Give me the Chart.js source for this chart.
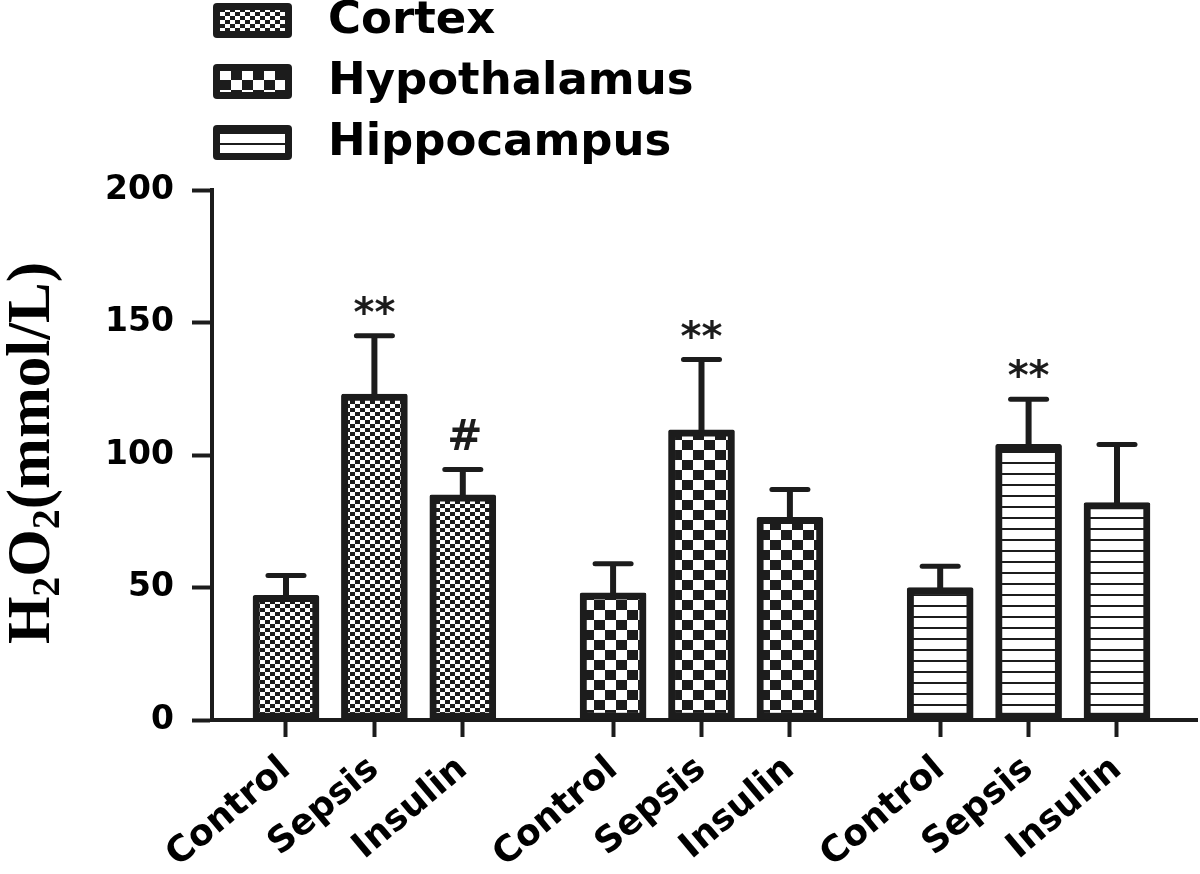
<!DOCTYPE html>
<html>
<head>
<meta charset="utf-8">
<title>H2O2 levels</title>
<script src="https://cdn.jsdelivr.net/npm/chart.js@4.4.1/dist/chart.umd.min.js"></script>
<style>
  html, body { margin: 0; padding: 0; background: #fff; }
  #wrap { width: 1200px; height: 874px; }
</style>
</head>
<body>
<div id="wrap"><canvas id="h2o2Chart" width="1200" height="874"></canvas></div>
<script>
// values (mean and upper error, mmol/L)
const regions = ['Cortex', 'Hypothalamus', 'Hippocampus'];
const groups = ['Control', 'Sepsis', 'Insulin'];

const cortexMean = [47, 123, 85];
const cortexErr = [7.5, 22, 9.5];
const hypothalamusMean = [48, 109.5, 76.5];
const hypothalamusErr = [11, 26.5, 10.5];
const hippocampusMean = [50, 104, 82];
const hippocampusErr = [8, 17, 22];

// significance marks above each bar
const cortexMarks = ['', '**', '#'];
const hypothalamusMarks = ['', '**', ''];
const hippocampusMarks = ['', '**', ''];

const yTicks = [0, 50, 100, 150, 200];

const INK = '#1c1c1c';
const SANS = "'DejaVu Sans', sans-serif";
const GROUP_STEP = 3.7; // 3 bars + gap, in bar-slot units

function checkerPattern(w, h) {
    const c = document.createElement('canvas');
    c.width = w * 2;
    c.height = h * 2;
    const g = c.getContext('2d');
    g.fillStyle = '#fff';
    g.fillRect(0, 0, w * 2, h * 2);
    g.fillStyle = INK;
    g.fillRect(0, 0, w, h);
    g.fillRect(w, h, w, h);
    return g.createPattern(c, 'repeat');
}

function stripePattern(step, line) {
    const c = document.createElement('canvas');
    c.width = 8;
    c.height = step;
    const g = c.getContext('2d');
    g.fillStyle = '#fff';
    g.fillRect(0, 0, 8, step);
    g.fillStyle = INK;
    g.fillRect(0, 0, 8, line);
    return g.createPattern(c, 'repeat');
}

const fills = [checkerPattern(5, 4), checkerPattern(11, 10), stripePattern(11, 2)];
const means = [cortexMean, hypothalamusMean, hippocampusMean];
const errs = [cortexErr, hypothalamusErr, hippocampusErr];
const marks = [cortexMarks, hypothalamusMarks, hippocampusMarks];

const xPos = [];
regions.forEach((r, gi) => groups.forEach((g, i) => xPos.push(gi * GROUP_STEP + i)));

const datasets = regions.map((name, gi) => ({
    label: name,
    data: means[gi].map((v, i) => ({ x: gi * GROUP_STEP + i, y: v })),
    errors: errs[gi],
    marks: marks[gi],
    backgroundColor: fills[gi],
    borderColor: INK,
    borderWidth: 7,
    borderSkipped: false,
    borderRadius: 2,
    barThickness: 66,
    grouped: false
}));

const errorBars = {
    id: 'errorBars',
    afterDatasetsDraw(chart) {
        const ctx = chart.ctx;
        const yScale = chart.scales.y;
        ctx.save();
        ctx.strokeStyle = INK;
        ctx.fillStyle = INK;
        chart.data.datasets.forEach((ds, di) => {
            chart.getDatasetMeta(di).data.forEach((bar, i) => {
                const top = yScale.getPixelForValue(ds.data[i].y + ds.errors[i]);
                ctx.lineWidth = 6;
                ctx.beginPath();
                ctx.moveTo(bar.x, bar.y + 3);
                ctx.lineTo(bar.x, top);
                ctx.stroke();
                ctx.lineWidth = 5;
                ctx.lineCap = 'round';
                ctx.beginPath();
                ctx.moveTo(bar.x - 18, top);
                ctx.lineTo(bar.x + 18, top);
                ctx.stroke();
                ctx.lineCap = 'butt';

                const m = ds.marks[i];
                if (m) {
                    ctx.textAlign = 'center';
                    ctx.textBaseline = 'alphabetic';
                    if (m === '#') {
                        ctx.font = 'bold 42px ' + SANS;
                        ctx.fillText(m, bar.x + 2, top - 20);
                    } else {
                        ctx.font = 'bold 40px ' + SANS;
                        ctx.fillText(m, bar.x, top - 10);
                    }
                }
            });
        });
        ctx.restore();
    }
};

const boxLegend = {
    id: 'boxLegend',
    afterDraw(chart) {
        const ctx = chart.ctx;
        ctx.save();
        chart.data.datasets.forEach((ds, i) => {
            const x = 213, y = 3 + i * 61, w = 79, h = 35;
            ctx.fillStyle = INK;
            ctx.beginPath();
            ctx.roundRect(x, y, w, h, 4);
            ctx.fill();
            ctx.fillStyle = ds.backgroundColor;
            ctx.fillRect(x + 7, y + 7, w - 14, h - 14);
            ctx.fillStyle = '#000';
            ctx.font = 'bold 45px ' + SANS;
            ctx.textAlign = 'left';
            ctx.textBaseline = 'middle';
            ctx.fillText(ds.label, 328, y + h / 2 + 1);
        });
        ctx.restore();
    }
};

// y title with real subscripts: H2O2(mmol/L)
const yTitle = {
    id: 'yTitle',
    afterDraw(chart) {
        const ctx = chart.ctx;
        const area = chart.chartArea;
        const parts = [['H', 0], ['2', 1], ['O', 0], ['2', 1], ['(mmol/L)', 0]];
        const big = 'bold 61px "Liberation Serif", serif';
        const small = 'bold 40px "Liberation Serif", serif';
        ctx.save();
        ctx.translate(28, (area.top + area.bottom) / 2 - 2);
        ctx.rotate(-Math.PI / 2);
        ctx.fillStyle = '#000';
        ctx.textBaseline = 'alphabetic';
        ctx.textAlign = 'left';
        let total = 0;
        parts.forEach(p => { ctx.font = p[1] ? small : big; total += ctx.measureText(p[0]).width; });
        let cx = -total / 2;
        parts.forEach(p => {
            ctx.font = p[1] ? small : big;
            ctx.fillText(p[0], cx, p[1] ? 31 : 21);
            cx += ctx.measureText(p[0]).width;
        });
        ctx.restore();
    }
};

new Chart(document.getElementById('h2o2Chart'), {
    type: 'bar',
    data: { datasets: datasets },
    options: {
        responsive: false,
        animation: false,
        layout: { padding: { top: 190, right: 3, bottom: 0, left: 0 } },
        plugins: {
            legend: { display: false },
            tooltip: { enabled: false }
        },
        scales: {
            x: {
                type: 'linear',
                min: -0.837,
                max: 10.305,
                offset: false,
                afterBuildTicks: s => { s.ticks = xPos.map(v => ({ value: v })); },
                afterFit: s => { s.height = 154; },
                grid: { offset: false, drawOnChartArea: false, tickLength: 17, tickWidth: 4, tickColor: INK },
                border: { color: INK, width: 4 },
                ticks: {
                    autoSkip: false,
                    minRotation: 40,
                    maxRotation: 40,
                    padding: 11,
                    color: '#000',
                    font: { family: SANS, size: 36, weight: 'bold' },
                    callback: (v, i) => groups[i % groups.length]
                }
            },
            y: {
                min: 0,
                max: 200,
                afterBuildTicks: s => { s.ticks = yTicks.map(v => ({ value: v })); },
                afterFit: s => { s.width = 212; },
                grid: { drawOnChartArea: false, tickLength: 20, tickWidth: 4, tickColor: INK },
                border: { color: INK, width: 4 },
                ticks: {
                    padding: 18,
                    color: '#000',
                    font: { family: SANS, size: 33, weight: 'bold' }
                }
            }
        }
    },
    plugins: [errorBars, boxLegend, yTitle]
});
</script>
</body>
</html>
